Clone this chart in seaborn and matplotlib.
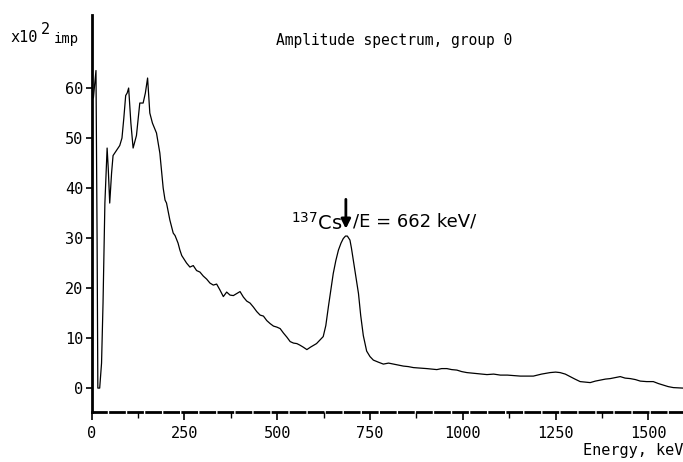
import matplotlib
matplotlib.use('Agg')
import matplotlib.pyplot as plt
import seaborn as sns

# Energy (keV) and counts (x100 imp)
energy = [5, 12, 15, 17, 22, 27, 31, 36, 42, 45, 49, 54, 58, 67, 76, 82, 87, 92, 96, 100,
          106, 112, 121, 130, 139, 145, 151, 157, 164, 175, 184, 193, 198, 202, 211, 220,
          225, 233, 238, 243, 256, 265, 274, 283, 292, 301, 310, 319, 328, 337, 346, 355,
          364, 373, 382, 391, 400, 409, 418, 427, 436, 445, 454, 463, 472, 481, 490, 499,
          508, 517, 526, 535, 544, 553, 561, 570, 580, 590, 599, 606, 615, 624, 631, 638,
          645, 651, 658, 665, 672, 678, 684, 689, 696, 700, 705, 712, 719, 725, 732, 741,
          750, 759, 772, 786, 800, 813, 827, 840, 853, 867, 885, 903, 916, 930, 943, 957,
          970, 984, 997, 1011, 1024, 1038, 1051, 1065, 1083, 1101, 1120, 1136, 1155, 1172,
          1190, 1212, 1235, 1250, 1262, 1276, 1289, 1302, 1316, 1330, 1343, 1357, 1370,
          1384, 1397, 1410, 1424, 1437, 1451, 1465, 1478, 1495, 1513, 1527, 1540, 1553,
          1567, 1580, 1593]
counts = [58, 63.5, 30, 0, 0, 5, 17, 37, 48, 44, 37, 43, 46.5, 47.5, 48.5, 50, 54, 58.5, 59, 60,
          53, 48, 50.5, 57, 57, 59, 62, 55, 53, 51, 47, 40, 37.6, 37, 33.6, 31,
          30.5, 29, 27.6, 26.5, 25, 24.2, 24.5, 23.5, 23.2, 22.4, 21.8, 21, 20.6, 20.8, 19.6, 18.3,
          19.2, 18.6, 18.5, 18.9, 19.3, 18.2, 17.4, 17, 16.2, 15.3, 14.6, 14.4, 13.5, 12.9, 12.4, 12.2,
          11.9, 11.0, 10.2, 9.3, 9.0, 8.9, 8.6, 8.2, 7.7, 8.2, 8.6, 8.9, 9.6, 10.3, 12.5, 16.3,
          19.8, 22.9, 25.5, 27.6, 29.0, 29.9, 30.4, 30.4, 29.6, 28, 25.6, 22.3, 18.9, 14.5, 10.5, 7.4,
          6.3, 5.6, 5.2, 4.8, 5.0, 4.8, 4.6, 4.4, 4.3, 4.1, 4.0, 3.9, 3.8, 3.7, 3.9, 3.9,
          3.7, 3.6, 3.3, 3.1, 3.0, 2.9, 2.8, 2.7, 2.8, 2.6, 2.6, 2.5, 2.4, 2.4,
          2.4, 2.8, 3.1, 3.2, 3.1, 2.8, 2.3, 1.8, 1.3, 1.2, 1.1, 1.4, 1.6,
          1.8, 1.9, 2.1, 2.3, 2.0, 1.9, 1.7, 1.4, 1.3, 1.3, 0.9, 0.6, 0.3,
          0.1, 0.05, 0]

xticks = [0, 250, 500, 750, 1000, 1250, 1500]
yticks = [0, 10, 20, 30, 40, 50, 60]

sns.set_style('ticks')
plt.rcParams['text.color'] = 'black'
plt.rcParams['xtick.color'] = 'black'
plt.rcParams['ytick.color'] = 'black'
plt.rcParams['axes.edgecolor'] = 'black'
mono = 'DejaVu Sans Mono'

fig = plt.figure(figsize=(6.83, 4.62), dpi=100)
ax = fig.add_axes([0.134, 0.108, 0.866, 0.8595])

sns.lineplot(x=energy, y=counts, ax=ax, color='black', linewidth=0.9, sort=False)

ax.set_xlim(0, 1593)
ax.set_ylim(-4.8, 74.6)
ax.set_xticks(xticks)
ax.set_xticks([125, 375, 625, 875, 1125, 1375], minor=True)
ax.set_yticks(yticks)
ax.set_xticklabels([str(t) for t in xticks], fontfamily=mono, fontsize=11)
ax.set_yticklabels([str(t) for t in yticks], fontfamily=mono, fontsize=11)
ax.tick_params(axis='x', which='major', direction='out', length=6, width=1.2, pad=4)
ax.tick_params(axis='x', which='minor', direction='out', length=4, width=1.0)
ax.tick_params(axis='y', direction='out', length=4, width=1.2, pad=2)

sns.despine(ax=ax, top=True, right=True)
ax.spines['left'].set_linewidth(2)
ax.spines['bottom'].set_linewidth(2)
ax.spines['bottom'].set_linestyle((0, (5, 1.5)))
ax.set_xlabel('')
ax.set_ylabel('')

# labels in figure pixel positions
W, H = 683, 462
fig.text(394 / W, 1 - 40 / H, 'Amplitude spectrum, group 0', fontfamily=mono,
         fontsize=10.5, ha='center', va='center')
fig.text(10 / W, 1 - 37 / H, 'x10', fontfamily=mono, fontsize=11, ha='left', va='center')
fig.text(41 / W, 1 - 30 / H, '2', fontfamily=mono, fontsize=11, ha='left', va='center')
fig.text(54 / W, 1 - 39 / H, 'imp', fontfamily=mono, fontsize=10, ha='left', va='center')
fig.text(683 / W, 1 - 451 / H, 'Energy, keV', fontfamily=mono, fontsize=11,
         ha='right', va='center')

# Cs-137 annotation
ax.annotate('', xy=(685, 31.3), xytext=(685, 38.3),
            arrowprops=dict(arrowstyle='-|>', color='black', lw=2, mutation_scale=14))
ax.text(675, 33.0, '$^{137}$Cs', fontfamily='DejaVu Sans', fontsize=14,
        ha='right', va='center')
ax.text(703, 33.3, '/E = 662 keV/', fontfamily='DejaVu Sans', fontsize=13,
        ha='left', va='center')

fig.savefig('out.png', dpi=100)
